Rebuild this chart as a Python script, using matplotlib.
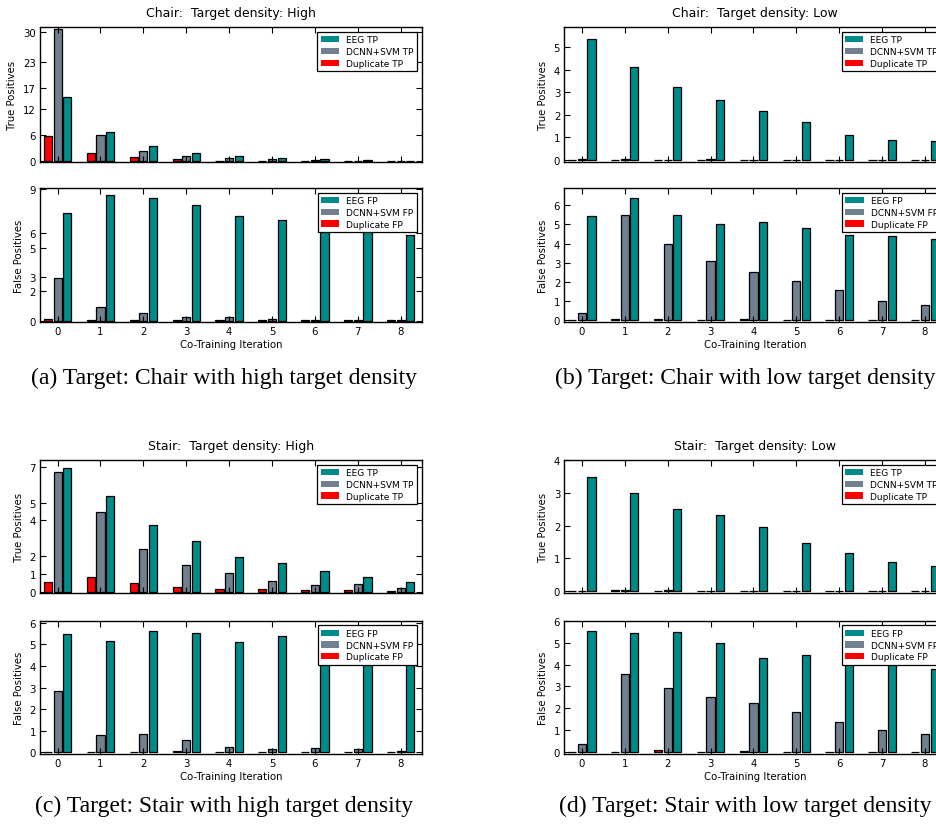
import matplotlib.pyplot as plt
import numpy as np

iterations = np.arange(9)

# Chair, high target density
chair_high_tp_eeg = [14.8, 6.9, 3.5, 1.9, 1.15, 0.7, 0.5, 0.3, 0.15]
chair_high_tp_dcnn = [30.5, 6.1, 2.5, 1.3, 0.7, 0.45, 0.4, 0.2, 0.15]
chair_high_tp_dup = [5.85, 1.85, 0.9, 0.45, 0.2, 0.15, 0.1, 0.05, 0.05]
chair_high_fp_eeg = [7.35, 8.63, 8.38, 7.9, 7.19, 6.92, 6.69, 6.4, 5.86]
chair_high_fp_dcnn = [2.95, 0.94, 0.53, 0.25, 0.23, 0.1, 0.04, 0.03, 0.02]
chair_high_fp_dup = [0.09, 0.02, 0.05, 0.02, 0.04, 0.02, 0.02, 0.02, 0.02]

# Chair, low target density
chair_low_tp_eeg = [5.37, 4.12, 3.23, 2.66, 2.16, 1.68, 1.10, 0.88, 0.82]
chair_low_tp_dcnn = [0.03, 0.03, 0.0, 0.03, 0.0, 0.0, 0.0, 0.0, 0.0]
chair_low_tp_dup = [0.0, 0.0, 0.0, 0.0, 0.0, 0.0, 0.0, 0.0, 0.0]
chair_low_fp_eeg = [5.44, 6.37, 5.50, 5.01, 5.13, 4.82, 4.45, 4.40, 4.23]
chair_low_fp_dcnn = [0.35, 5.51, 4.0, 3.11, 2.52, 2.05, 1.55, 1.01, 0.8]
chair_low_fp_dup = [0.0, 0.07, 0.05, 0.0, 0.07, 0.03, 0.03, 0.0, 0.03]

# Stair, high target density
stair_high_tp_eeg = [6.94, 5.38, 3.75, 2.87, 1.95, 1.59, 1.16, 0.81, 0.53]
stair_high_tp_dcnn = [6.72, 4.47, 2.38, 1.52, 1.03, 0.58, 0.36, 0.41, 0.19]
stair_high_tp_dup = [0.56, 0.83, 0.47, 0.24, 0.15, 0.13, 0.08, 0.11, 0.04]
stair_high_fp_eeg = [5.50, 5.16, 5.63, 5.54, 5.12, 5.41, 4.86, 5.0, 4.7]
stair_high_fp_dcnn = [2.85, 0.80, 0.85, 0.57, 0.23, 0.14, 0.22, 0.14, 0.08]
stair_high_fp_dup = [0.03, 0.03, 0.02, 0.04, 0.01, 0.02, 0.03, 0.01, 0.01]

# Stair, low target density
stair_low_tp_eeg = [3.48, 3.0, 2.50, 2.32, 1.96, 1.46, 1.17, 0.9, 0.77]
stair_low_tp_dcnn = [0.0, 0.04, 0.02, 0.0, 0.0, 0.0, 0.0, 0.0, 0.0]
stair_low_tp_dup = [0.0, 0.02, 0.0, 0.0, 0.0, 0.0, 0.0, 0.0, 0.0]
stair_low_fp_eeg = [5.53, 5.45, 5.50, 4.99, 4.29, 4.42, 4.54, 4.2, 3.78]
stair_low_fp_dcnn = [0.38, 3.58, 2.92, 2.51, 2.24, 1.84, 1.36, 1.0, 0.82]
stair_low_fp_dup = [0.0, 0.03, 0.08, 0.03, 0.05, 0.03, 0.0, 0.03, 0.0]

chair_high_tp_ticks = [0, 6, 12, 17, 23, 30]
chair_high_fp_ticks = [0, 2, 3, 5, 6, 9]
chair_low_tp_ticks = [0, 1, 2, 3, 4, 5]
chair_low_fp_ticks = [0, 1, 2, 3, 4, 5, 6]
stair_high_tp_ticks = [0, 1, 2, 4, 5, 7]
stair_high_fp_ticks = [0, 1, 2, 3, 4, 5, 6]
stair_low_tp_ticks = [0, 1, 2, 3, 4]
stair_low_fp_ticks = [0, 1, 2, 3, 4, 5, 6]

EEG_COLOR = '#008b8b'
DCNN_COLOR = '#708090'
DUP_COLOR = '#ff0000'

W, H = 936, 829
fig = plt.figure(figsize=(W / 100, H / 100), dpi=100)
fig.patch.set_facecolor('white')


def px_axes(x0, y0, x1, y1):
    # pixel box (top-left origin) -> figure fraction
    return fig.add_axes([x0 / W, 1 - y1 / H, (x1 - x0) / W, (y1 - y0) / H])


def draw_panel(ax, eeg, dcnn, dup, kind, ticks, ylim, show_x):
    bw = 0.19
    b_dup = ax.bar(iterations - 0.225, dup, bw, color=DUP_COLOR,
                   edgecolor='black', linewidth=0.9)
    b_dcnn = ax.bar(iterations, dcnn, bw, color=DCNN_COLOR,
                    edgecolor='black', linewidth=0.9)
    b_eeg = ax.bar(iterations + 0.225, eeg, bw, color=EEG_COLOR,
                   edgecolor='black', linewidth=0.9)
    ax.set_xlim(-0.41, 8.49)
    ax.set_ylim(*ylim)
    ax.set_xticks(iterations)
    ax.set_yticks(ticks)
    ax.tick_params(direction='in', length=4, width=0.8, labelsize=7.3,
                   top=True, right=True, pad=3)
    for s in ax.spines.values():
        s.set_linewidth(1.0)
    if show_x:
        ax.set_xlabel('Co-Training Iteration', fontsize=7.3, labelpad=2)
    else:
        ax.tick_params(labelbottom=False)
    ax.set_ylabel('True Positives' if kind == 'TP' else 'False Positives',
                  fontsize=7.3, labelpad=4)
    leg = ax.legend([b_eeg, b_dcnn, b_dup],
                    ['EEG ' + kind, 'DCNN+SVM ' + kind, 'Duplicate ' + kind],
                    loc='upper right', fontsize=6.5, fancybox=False,
                    framealpha=1, edgecolor='black', borderaxespad=0.5,
                    labelspacing=0.3, handlelength=2.0, handletextpad=0.8,
                    borderpad=0.4)
    leg.get_frame().set_linewidth(0.9)
    for p in leg.get_patches():
        p.set_edgecolor('none')


cols = {'left': (40, 421.7), 'right': (564.3, 946)}
rows = {'top': ((28.3, 162.8), (189, 323)), 'bottom': ((461, 594), (621.7, 755))}

panels = [
    ('left', 'top', 'Chair:  Target density: High',
     (chair_high_tp_eeg, chair_high_tp_dcnn, chair_high_tp_dup, chair_high_tp_ticks, (-0.1, 31)),
     (chair_high_fp_eeg, chair_high_fp_dcnn, chair_high_fp_dup, chair_high_fp_ticks, (-0.1, 9.1))),
    ('right', 'top', 'Chair:  Target density: Low',
     (chair_low_tp_eeg, chair_low_tp_dcnn, chair_low_tp_dup, chair_low_tp_ticks, (-0.1, 5.9)),
     (chair_low_fp_eeg, chair_low_fp_dcnn, chair_low_fp_dup, chair_low_fp_ticks, (-0.1, 6.9))),
    ('left', 'bottom', 'Stair:  Target density: High',
     (stair_high_tp_eeg, stair_high_tp_dcnn, stair_high_tp_dup, stair_high_tp_ticks, (-0.08, 7.4)),
     (stair_high_fp_eeg, stair_high_fp_dcnn, stair_high_fp_dup, stair_high_fp_ticks, (-0.08, 6.1))),
    ('right', 'bottom', 'Stair:  Target density: Low',
     (stair_low_tp_eeg, stair_low_tp_dcnn, stair_low_tp_dup, stair_low_tp_ticks, (-0.06, 4.0)),
     (stair_low_fp_eeg, stair_low_fp_dcnn, stair_low_fp_dup, stair_low_fp_ticks, (-0.08, 6.0))),
]

for col, row, title, tp, fp in panels:
    x0, x1 = cols[col]
    (ty0, ty1), (fy0, fy1) = rows[row]
    ax_tp = px_axes(x0, ty0, x1, ty1)
    draw_panel(ax_tp, *tp[:3], 'TP', tp[3], tp[4], show_x=False)
    ax_tp.set_title(title, fontsize=9, pad=8)
    ax_fp = px_axes(x0, fy0, x1, fy1)
    draw_panel(ax_fp, *fp[:3], 'FP', fp[3], fp[4], show_x=True)

captions = [
    (224, 384, '(a) Target: Chair with high target density'),
    (745, 384, '(b) Target: Chair with low target density'),
    (224, 812.3, '(c) Target: Stair with high target density'),
    (745, 812.3, '(d) Target: Stair with low target density'),
]
for cx, cy, text in captions:
    fig.text(cx / W, 1 - cy / H, text, ha='center', va='baseline',
             fontsize=17, family='Liberation Serif')

fig.savefig('out.png', dpi=100)
